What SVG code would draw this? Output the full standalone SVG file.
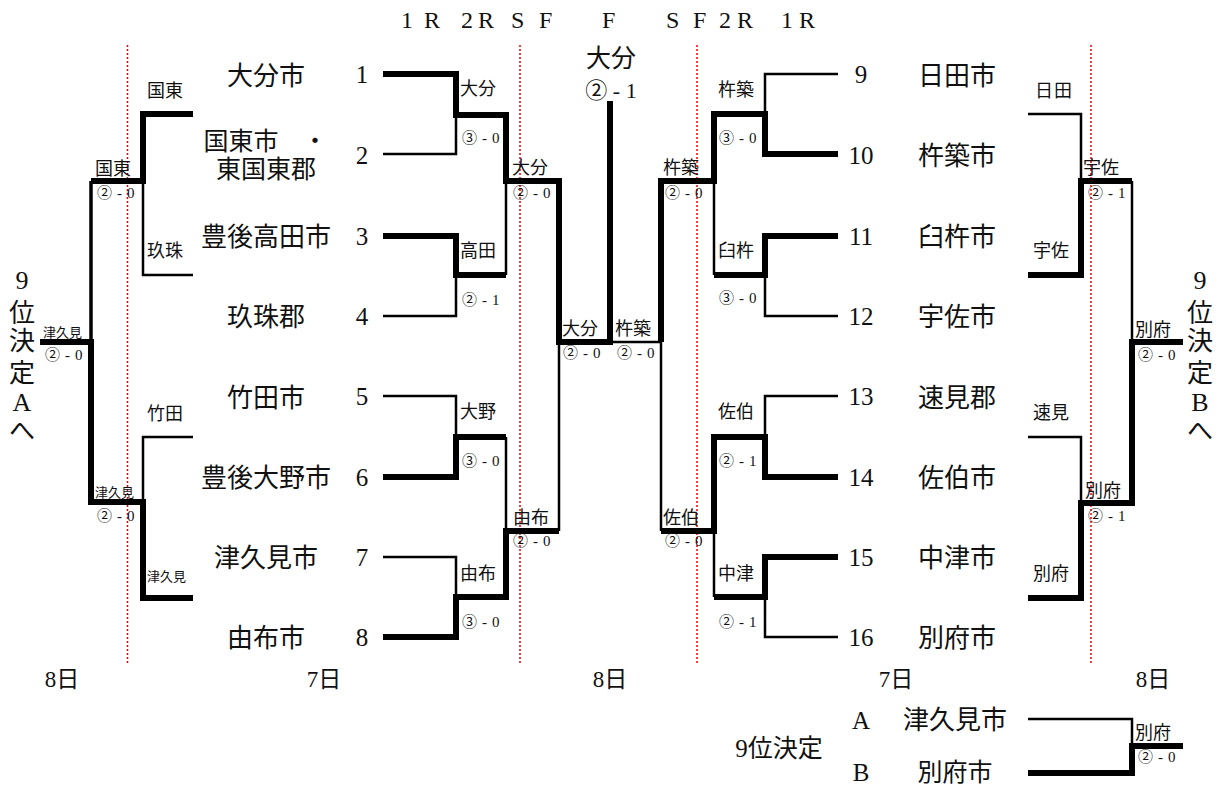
<svg xmlns="http://www.w3.org/2000/svg" width="1223" height="785" viewBox="0 0 1223 785">
<style>
text{font-family:"Liberation Serif","Noto Sans CJK JP",serif;fill:#111}
.nm{font-size:26px;text-anchor:middle}
.no{font-size:25px;text-anchor:middle}
.lb{font-size:18px}
.sm{font-size:13px}
.sc{font-size:15px;letter-spacing:0.6px}
.hd{font-size:24px}
.dy{font-size:23px;text-anchor:middle}
.vt{font-size:26px;text-anchor:middle}
.thick{fill:none;stroke:#000;stroke-width:6;stroke-linejoin:miter;stroke-linecap:butt}
.thin{fill:none;stroke:#000;stroke-width:2.5;stroke-linejoin:miter}
.mid{fill:none;stroke:#000;stroke-width:3.5}
.dot{stroke:#e00;stroke-width:1.5;stroke-dasharray:2 2}
</style>
<rect width="1223" height="785" fill="#fff"/>
<g id="dividers">
<line class="dot" x1="127.5" y1="45" x2="127.5" y2="663"/>
<line class="dot" x1="520" y1="45" x2="520" y2="663"/>
<line class="dot" x1="697" y1="45" x2="697" y2="663"/>
<line class="dot" x1="1091" y1="45" x2="1091" y2="663"/>
</g>
<g id="header" class="hd">
<text x="401 424" y="28">1R</text>
<text x="461 478" y="28">2R</text>
<text x="511 539" y="28">SF</text>
<text x="602" y="28">F</text>
<text x="666 693" y="28">SF</text>
<text x="719 737" y="28">2R</text>
<text x="781 799" y="28">1R</text>
</g>
<g id="connectors">
<path class="thick" d="M383,74 H456 V115 H506 V181 H559 V342 H610 V101"/>
<path class="thin" d="M383,154 H456 V115"/>
<path class="thick" d="M383,236 H456 V275 H506"/>
<path class="thin" d="M383,316 H456 V275"/>
<path class="thin" d="M506,181 V275"/>
<path class="thin" d="M383,396 H456 V437"/>
<path class="thick" d="M383,477 H456 V437 H506"/>
<path class="thin" d="M506,437 V531"/>
<path class="thick" d="M383,637 H456 V597 H506 V531 H559"/>
<path class="thin" d="M383,557 H456 V597"/>
<path class="thin" d="M559,531 V342"/>
<path class="thin" d="M610,342 H661"/>
<path class="thick" d="M838,154 H765 V114 H714 V181 H661 V342"/>
<path class="thin" d="M838,74 H765 V114"/>
<path class="thin" d="M714,181 V275"/>
<path class="thick" d="M838,236 H765 V275 H714"/>
<path class="thin" d="M838,316 H765 V275"/>
<path class="thin" d="M838,396 H765 V437"/>
<path class="thick" d="M838,477 H765 V437 H714 V531 H661"/>
<path class="thin" d="M714,531 V597"/>
<path class="thick" d="M838,557 H765 V597 H714"/>
<path class="thin" d="M838,637 H765 V597"/>
<path class="thin" d="M661,531 V342"/>
<path class="thick" d="M193,114 H143 V181 H91"/>
<path class="thin" d="M143,181 V275 H193"/>
<path class="mid" d="M91,181 V342"/>
<path class="thin" d="M193,437 H143 V502"/>
<path class="thick" d="M193,598 H143 V502 H91 V342 H40"/>
<path class="thin" d="M1028,114 H1081 V181"/>
<path class="thick" d="M1028,275 H1081 V181 H1132"/>
<path class="thin" d="M1132,181 V342"/>
<path class="thin" d="M1028,437 H1081 V503"/>
<path class="thick" d="M1028,598 H1081 V503 H1132 V342 H1183"/>
<path class="thin" d="M1028,719 H1132 V746"/>
<path class="thick" d="M1028,773 H1132 V746 H1183"/>
</g>
<g id="teams-left">
<g id="t1"><text class="nm" x="266" y="85">大分市</text><text class="no" x="362" y="83">1</text></g>
<g id="t2"><text class="nm" x="241" y="150" style="font-size:25px">国東市</text><text class="nm" x="315" y="150" style="font-size:25px">・</text><text class="nm" x="266" y="178" style="font-size:25px">東国東郡</text><text class="no" x="362" y="164">2</text></g>
<g id="t3"><text class="nm" x="266" y="246">豊後高田市</text><text class="no" x="362" y="245">3</text></g>
<g id="t4"><text class="nm" x="266" y="326">玖珠郡</text><text class="no" x="362" y="325">4</text></g>
<g id="t5"><text class="nm" x="266" y="407">竹田市</text><text class="no" x="362" y="405">5</text></g>
<g id="t6"><text class="nm" x="266" y="487">豊後大野市</text><text class="no" x="362" y="486">6</text></g>
<g id="t7"><text class="nm" x="266" y="567">津久見市</text><text class="no" x="362" y="566">7</text></g>
<g id="t8"><text class="nm" x="266" y="647">由布市</text><text class="no" x="362" y="646">8</text></g>
</g>
<g id="teams-right">
<g id="t9"><text class="no" x="861" y="83">9</text><text class="nm" x="957" y="85">日田市</text></g>
<g id="t10"><text class="no" x="861" y="164">10</text><text class="nm" x="957" y="165">杵築市</text></g>
<g id="t11"><text class="no" x="861" y="245">11</text><text class="nm" x="957" y="246">臼杵市</text></g>
<g id="t12"><text class="no" x="861" y="325">12</text><text class="nm" x="957" y="326">宇佐市</text></g>
<g id="t13"><text class="no" x="861" y="405">13</text><text class="nm" x="957" y="407">速見郡</text></g>
<g id="t14"><text class="no" x="861" y="486">14</text><text class="nm" x="957" y="487">佐伯市</text></g>
<g id="t15"><text class="no" x="861" y="566">15</text><text class="nm" x="957" y="567">中津市</text></g>
<g id="t16"><text class="no" x="861" y="646">16</text><text class="nm" x="957" y="647">別府市</text></g>
</g>
<g id="results">
<text class="lb" x="460" y="95">大分</text><text class="sc" x="462" y="143">③ - 0</text>
<text class="lb" x="460" y="257">高田</text><text class="sc" x="462" y="305">② - 1</text>
<text class="lb" x="460" y="418">大野</text><text class="sc" x="462" y="466">③ - 0</text>
<text class="lb" x="460" y="580">由布</text><text class="sc" x="462" y="627">③ - 0</text>
<text class="lb" x="512" y="174">大分</text><text class="sc" x="513" y="198">② - 0</text>
<text class="lb" x="513" y="524">由布</text><text class="sc" x="513" y="546">② - 0</text>
<text class="lb" x="562" y="335">大分</text><text class="sc" x="563" y="358">② - 0</text>
<text class="lb" x="615" y="335">杵築</text><text class="sc" x="617" y="358">② - 0</text>
<text class="lb" x="718" y="96">杵築</text><text class="sc" x="719" y="143">③ - 0</text>
<text class="lb" x="718" y="257">臼杵</text><text class="sc" x="719" y="303">③ - 0</text>
<text class="lb" x="718" y="418">佐伯</text><text class="sc" x="719" y="466">② - 1</text>
<text class="lb" x="718" y="580">中津</text><text class="sc" x="719" y="627">② - 1</text>
<text class="lb" x="663" y="174">杵築</text><text class="sc" x="665" y="198">② - 0</text>
<text class="lb" x="663" y="524">佐伯</text><text class="sc" x="665" y="546">② - 0</text>
<text x="611" y="67" style="font-size:25px;text-anchor:middle">大分</text>
<text x="611" y="98" style="font-size:22px;text-anchor:middle">② - 1</text>
</g>
<g id="consolation-left">
<text class="lb" x="147" y="97">国東</text>
<text class="lb" x="95" y="175">国東</text><text class="sc" x="97" y="198">② - 0</text>
<text class="lb" x="147" y="257">玖珠</text>
<text class="sm" x="43" y="337">津久見</text><text class="sc" x="45" y="360">② - 0</text>
<text class="lb" x="147" y="420">竹田</text>
<text class="sm" x="95" y="497">津久見</text><text class="sc" x="97" y="521">② - 0</text>
<text class="sm" x="147" y="581">津久見</text>
<g class="vt"><text x="22" y="289">9</text><text x="22" y="322">位</text><text x="22" y="350">決</text><text x="22" y="382">定</text><text x="22" y="411">A</text><text x="22" y="440">へ</text></g>
</g>
<g id="consolation-right">
<text class="lb" x="1035" y="97" style="letter-spacing:1px">日田</text>
<text class="lb" x="1033" y="257">宇佐</text>
<text class="lb" x="1083" y="174">宇佐</text><text class="sc" x="1088" y="198">② - 1</text>
<text class="lb" x="1135" y="336">別府</text><text class="sc" x="1138" y="360">② - 0</text>
<text class="lb" x="1033" y="419">速見</text>
<text class="lb" x="1033" y="580">別府</text>
<text class="lb" x="1085" y="497">別府</text><text class="sc" x="1088" y="521">② - 1</text>
<g class="vt"><text x="1200" y="289">9</text><text x="1200" y="322">位</text><text x="1200" y="350">決</text><text x="1200" y="382">定</text><text x="1200" y="411">B</text><text x="1200" y="440">へ</text></g>
</g>
<g id="days">
<text class="dy" x="62" y="687">8日</text>
<text class="dy" x="324" y="687">7日</text>
<text class="dy" x="610" y="687">8日</text>
<text class="dy" x="896" y="687">7日</text>
<text class="dy" x="1153" y="687">8日</text>
</g>
<g id="ninth-place">
<text x="779" y="757" style="font-size:25px;text-anchor:middle">9位決定</text>
<text class="no" x="861" y="729">A</text>
<text class="no" x="861" y="781">B</text>
<text class="nm" x="955" y="729">津久見市</text>
<text class="nm" x="955" y="781" style="font-size:25px">別府市</text>
<text class="lb" x="1135" y="739">別府</text><text class="sc" x="1138" y="762">② - 0</text>
</g>
</svg>
